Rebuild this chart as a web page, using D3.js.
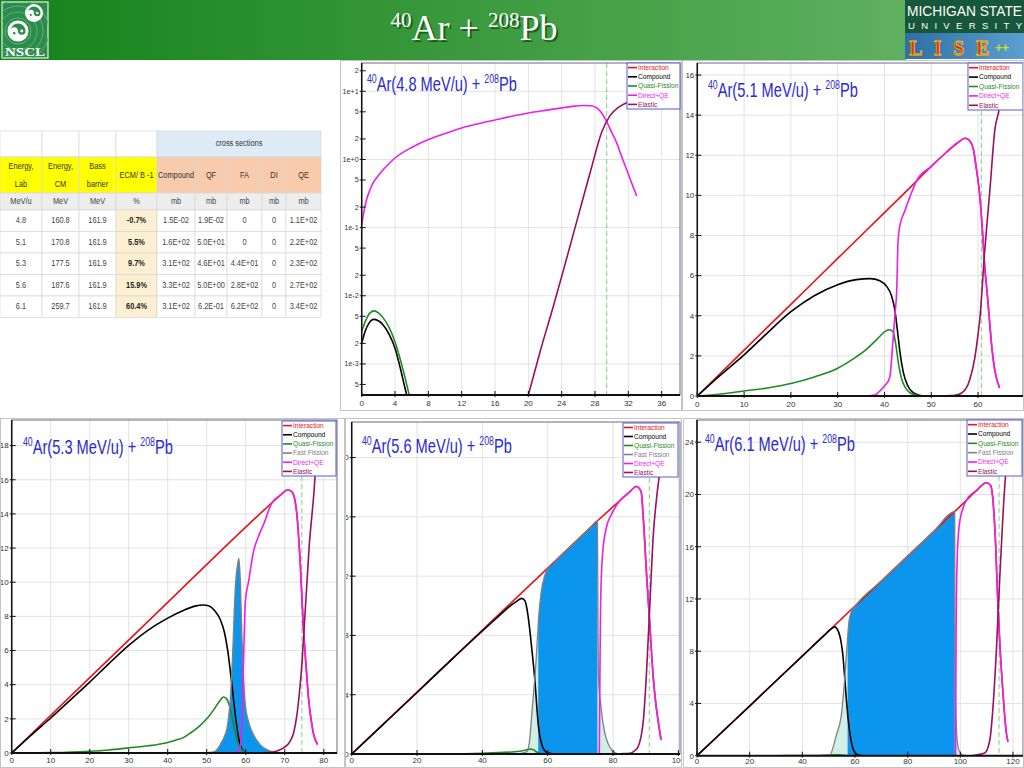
<!DOCTYPE html>
<html>
<head>
<meta charset="utf-8">
<script src="https://cdn.jsdelivr.net/npm/d3@7/dist/d3.min.js"></script>
<style>
  body { margin: 0; background: #fff; }
  svg { display: block; }
</style>
</head>
<body>
<script>
// ---------- table values ----------
const tableHeaders = [["Energy,", "Lab"], ["Energy,", "CM"], ["Bass", "barrier"], ["ECM/ B -1"],
  ["Compound"], ["QF"], ["FA"], ["DI"], ["QE"]]
const tableUnits = ["MeV/u", "MeV", "MeV", "%", "mb", "mb", "mb", "mb", "mb"]
const energyLab = ["4.8", "5.1", "5.3", "5.6", "6.1"]
const energyCM = ["160.8", "170.8", "177.5", "187.6", "259.7"]
const bassBarrier = ["161.9", "161.9", "161.9", "161.9", "161.9"]
const ecmOverB = ["-0.7%", "5.5%", "9.7%", "15.9%", "60.4%"]
const xsCompound = ["1.5E-02", "1.6E+02", "3.1E+02", "3.3E+02", "3.1E+02"]
const xsQF = ["1.9E-02", "5.0E+01", "4.6E+01", "5.0E+00", "6.2E-01"]
const xsFA = ["0", "0", "4.4E+01", "2.8E+02", "6.2E+02"]
const xsDI = ["0", "0", "0", "0", "0"]
const xsQE = ["1.1E+02", "2.2E+02", "2.3E+02", "2.7E+02", "3.4E+02"]

const legendNames5 = ["Interaction", "Compound", "Quasi-Fission", "Direct+QE", "Elastic"]
const legendNames6 = ["Interaction", "Compound", "Quasi-Fission", "Fast Fission", "Direct+QE", "Elastic"]

// ---------- 4.8 MeV/u (log scale) ----------
const a48XTicks = [0, 4, 8, 12, 16, 20, 24, 28, 32, 36]
const a48YTicks = [5e-4, 1e-3, 2e-3, 5e-3, 1e-2, 2e-2, 5e-2, 1e-1, 2e-1, 5e-1, 1, 2, 5, 10, 20]
const a48YLabels = ["5", "1e-3", "2", "5", "1e-2", "2", "5", "1e-1", "2", "5", "1e+0", "2", "5", "1e+1", "2"]
const a48Compound = [[0, 0.0020], [0.4, 0.0030], [0.9, 0.0040], [1.4, 0.0045], [2, 0.0043], [2.6, 0.0037],
  [3.3, 0.0027], [4, 0.0017], [4.6, 0.0009], [5.2, 0.00044], [5.4, 0.00035]]
const a48QF = [[0, 0.0030], [0.5, 0.0044], [1, 0.0056], [1.5, 0.0060], [2, 0.0056], [2.6, 0.0047],
  [3.3, 0.0034], [4, 0.0021], [4.6, 0.0012], [5.2, 0.00063], [5.7, 0.00035]]
const a48Direct = [[0, 0.11], [0.3, 0.18], [0.6, 0.26], [1, 0.36], [1.4, 0.46], [2, 0.58], [2.6, 0.71],
  [4, 1.05], [6, 1.5], [8, 1.96], [10, 2.4], [12, 2.9], [14, 3.35], [16, 3.8], [18, 4.3], [20, 4.8],
  [22, 5.25], [24, 5.7], [25.5, 6.05], [26.5, 6.2], [27.5, 6.15], [28.2, 5.7], [28.8, 4.8], [29.4, 3.6],
  [30, 2.5], [30.6, 1.75], [31.2, 1.1], [31.8, 0.71], [32.4, 0.45], [33, 0.29]]
const a48Elastic = [[20, 0.00035], [21.4, 0.0015], [23, 0.007], [24.5, 0.032], [26, 0.15], [27.5, 0.7],
  [28.8, 2.5], [29.8, 4.4], [30.8, 5.8], [31.8, 6.8], [33, 7.6]]
const a48Grazing = 29.4

// ---------- 5.1 MeV/u ----------
const b51XTicks = [0, 10, 20, 30, 40, 50, 60]
const b51YTicks = [0, 2, 4, 6, 8, 10, 12, 14, 16]
const b51Interaction = [[0, 0], [10, 2.29], [20, 4.57], [30, 6.86], [40, 9.14], [46.8, 10.7], [50, 11.45],
  [53, 12.1], [55.5, 12.6], [57.3, 12.85], [58.3, 12.7], [59, 12.3], [59.6, 11.4], [60.4, 9.9], [61, 8.0],
  [61.4, 6.5], [62, 5.0], [62.5, 3.6], [63, 2.3], [63.6, 1.25], [64.6, 0.4]]
const b51Compound = [[0, 0], [5, 1.05], [10, 2.05], [15, 3.15], [20, 4.2], [25, 5.0], [30, 5.55], [34, 5.8],
  [37, 5.85], [39, 5.75], [40.5, 5.45], [41.5, 5.0], [42.2, 4.3], [42.8, 3.2], [43.3, 2.2], [44, 1.2],
  [45, 0.5], [46, 0.2], [47, 0.07], [48, 0]]
const b51QF = [[0, 0], [5, 0.1], [10, 0.25], [15, 0.4], [20, 0.62], [25, 0.95], [30, 1.38], [33, 1.8],
  [36, 2.3], [38.5, 2.85], [40, 3.2], [41, 3.3], [41.8, 3.2], [42.4, 2.6], [43, 1.6], [43.6, 0.9],
  [44.5, 0.4], [45.5, 0.15], [47, 0.03], [48.5, 0]]
const b51Direct = [[36, 0], [38, 0.05], [39, 0.25], [40, 0.5], [41.1, 0.9], [41.8, 2.7], [42.3, 4.2],
  [42.6, 5.2], [42.9, 7.7], [43.3, 8.5], [44.3, 9.2], [45.4, 9.9], [46.8, 10.7], [50, 11.45], [53, 12.1],
  [55.5, 12.6], [57.3, 12.85], [58.3, 12.7], [59, 12.3], [59.6, 11.4], [60.4, 9.9], [61, 8.0], [61.4, 6.5],
  [62, 5.0], [62.5, 3.6], [63, 2.3], [63.6, 1.25], [64.6, 0.4]]
const b51Elastic = [[52, 0], [55, 0.03], [56.5, 0.15], [57.5, 0.4], [58.2, 0.8], [59.3, 1.9], [59.9, 2.9],
  [60.4, 3.9], [61.4, 7.2], [62.5, 10.2], [63.6, 13.3], [64.6, 14.5], [65.3, 16.6]]
const b51Grazing = 60.7

// ---------- 5.3 MeV/u ----------
const c53XTicks = [0, 10, 20, 30, 40, 50, 60, 70, 80]
const c53YTicks = [0, 2, 4, 6, 8, 10, 12, 14, 16, 18]
const c53Interaction = [[0, 0], [20, 4.41], [40, 8.82], [60, 13.23], [66.7, 14.65], [68.9, 15.1], [70.7, 15.4],
  [71.6, 15.35], [72.3, 15.1], [73.1, 14], [74, 11], [74.8, 7.3], [75.5, 5.0], [76.1, 3.2], [76.8, 1.9],
  [77.4, 1.1], [78.4, 0.5]]
const c53Compound = [[0, 0], [5, 1.05], [10, 2.05], [15, 3.1], [20, 4.15], [25, 5.25], [30, 6.3], [35, 7.2],
  [40, 7.9], [44, 8.35], [47, 8.6], [49, 8.67], [50.5, 8.62], [52, 8.35], [53.5, 7.8], [54.5, 7.1],
  [55.5, 5.8], [56.5, 3.9], [57.5, 1.9], [58.5, 0.55], [59.5, 0.1], [60.5, 0]]
const c53QF = [[0, 0], [10, 0.02], [20, 0.1], [25, 0.18], [30, 0.3], [35, 0.42], [40, 0.62], [42, 0.75],
  [44, 0.9], [46, 1.2], [48, 1.55], [50, 2.0], [52, 2.6], [53.5, 3.1], [54.3, 3.28], [55, 3.2], [55.8, 2.8],
  [56.5, 2.1], [57.3, 1.2], [58, 0.6], [59, 0.2], [60, 0.03], [61, 0]]
const c53FastFission = [[49, 0], [51.8, 0.06], [53.5, 0.5], [54.5, 0.95], [55.2, 1.46], [55.7, 2.3], [56, 3.0],
  [56.4, 4.6], [56.7, 6.1], [57, 8.0], [57.3, 9.6], [57.6, 10.5], [57.9, 11.0], [58.2, 11.4], [58.4, 11.0],
  [58.6, 10.2], [59, 7.0], [59.4, 4.6], [59.9, 2.8], [60.7, 1.85], [62, 1.07], [63.7, 0.49], [65.4, 0.2],
  [67, 0.05], [68, 0]]
const c53Direct = [[57.5, 0], [58.5, 0.3], [59, 1.5], [59.3, 4.2], [59.6, 6.8], [59.9, 8.9], [60.7, 10.0],
  [62, 11.8], [63.3, 12.7], [64.6, 13.4], [66.7, 14.65], [68.9, 15.1], [70.7, 15.4], [71.6, 15.35],
  [72.3, 15.1], [73.1, 14], [74, 11], [74.8, 7.3], [75.5, 5.0], [76.1, 3.2], [76.8, 1.9], [77.4, 1.1], [78.4, 0.5]]
const c53Elastic = [[64, 0], [66, 0.02], [68, 0.12], [69.7, 0.3], [71.4, 0.7], [72.3, 1.2], [73.1, 2.2],
  [73.8, 3.6], [74.4, 5.2], [75, 7.4], [75.7, 10], [76.3, 12.2], [77, 14], [77.5, 15.3], [77.8, 16.3], [78.3, 18]]
const c53Grazing = 74.4

// ---------- 5.6 MeV/u ----------
const d56XTicks = [0, 20, 40, 60, 80, 100]
const d56YTicks = [0, 4, 8, 12, 16, 20]
const d56Interaction = [[0, 0], [20, 4.18], [40, 8.36], [60, 12.54], [75.2, 15.72], [82.1, 17.1], [84.7, 17.6],
  [87.2, 18.05], [88.6, 17.7], [89.3, 15.8], [90.3, 12.0], [91.3, 8.6], [92.3, 5.2], [93.1, 3.4],
  [93.9, 2.1], [94.7, 0.95]]
const d56Compound = [[0, 0], [10, 2.07], [20, 4.15], [30, 6.25], [40, 8.3], [45, 9.3], [48, 9.9], [50.5, 10.3],
  [52, 10.5], [53, 10.35], [53.6, 9.85], [54.4, 8.6], [55.1, 7.15], [56.1, 4.9], [56.6, 3.4], [57.1, 2.0],
  [57.6, 1.2], [58.2, 0.63], [59, 0.25], [60.2, 0.07], [62, 0]]
const d56QF = [[0, 0], [30, 0], [40, 0.05], [45, 0.1], [50, 0.15], [53, 0.25], [54.5, 0.33], [55.5, 0.3],
  [56.5, 0.15], [57.5, 0.05], [59, 0]]
const d56FastFission = [[48, 0], [51, 0.03], [52.5, 0.08], [53.6, 0.16], [54.4, 0.8], [55.1, 2.6], [55.7, 4.2],
  [56.3, 5.8], [56.8, 7.6], [57.3, 9.4], [58, 10.9], [59.2, 12.1], [60.5, 12.65], [62, 12.96], [65, 13.59],
  [68, 14.21], [71, 14.84], [73, 15.26], [75.2, 15.72], [75.35, 11], [75.5, 5.7], [75.8, 4.2], [76.2, 3.4],
  [76.8, 2.3], [77.5, 1.4], [78.5, 0.7], [79.6, 0.27], [81.6, 0]]
const d56Direct = [[75.8, 0], [75.9, 3], [76, 5.7], [76.2, 10.2], [76.8, 13.5], [78, 15.3], [79.6, 16.2],
  [82.1, 17.1], [84.7, 17.6], [87.2, 18.05], [88.6, 17.7], [89.3, 15.8], [90.3, 12.0], [91.3, 8.6],
  [92.3, 5.2], [93.1, 3.4], [93.9, 2.1], [94.7, 0.95]]
const d56Elastic = [[80, 0], [82.1, 0.02], [85.2, 0.05], [86.5, 0.2], [87.7, 0.5], [88.6, 1.2], [89.3, 2.3],
  [90.3, 5.7], [91.3, 10.2], [92.3, 14.7], [93.4, 17.4], [94.4, 19.2], [95.2, 21]]
const d56FissionCut = [57.1, 75.2]
const d56Grazing = 91.1

// ---------- 6.1 MeV/u ----------
const e61XTicks = [0, 20, 40, 60, 80, 100, 120]
const e61YTicks = [0, 4, 8, 12, 16, 20, 24]
const e61Interaction = [[0, 0], [20, 3.82], [40, 7.64], [60, 11.46], [80, 15.28], [97.9, 18.7], [102.3, 19.55],
  [106.1, 20.3], [109.9, 20.9], [111.5, 20.7], [112.5, 19.3], [113.4, 16.2], [114.1, 12.4], [115, 8.6],
  [116.2, 4.8], [117.5, 1.7], [118.1, 1.07]]
const e61Compound = [[0, 0], [10, 1.9], [20, 3.8], [30, 5.72], [40, 7.62], [48, 9.15], [51.6, 9.8], [52.3, 9.86],
  [53.2, 9.7], [54.2, 9.2], [54.8, 8.6], [55.4, 7.7], [56, 6.2], [56.7, 4.4], [57.3, 3.0], [58, 1.8],
  [59.2, 0.56], [60, 0.25], [61.1, 0.05], [63, 0]]
const e61QF = [[0, 0], [30, 0], [45, 0.02], [50, 0.05], [54, 0.06], [57, 0.02], [60, 0]]
const e61FastFission = [[47, 0], [50.4, 0.05], [52.9, 1.58], [54.8, 3.1], [56, 5.66], [56.9, 8.2], [57.7, 10.25],
  [58.6, 11.0], [60.5, 11.56], [70, 13.37], [80, 15.28], [90, 17.19], [97.85, 18.69], [97.95, 10],
  [98.05, 4.8], [98.6, 1.7], [99.5, 0.4], [101, 0.05], [102.3, 0]]
const e61Direct = [[98.2, 0], [98.3, 5], [98.4, 9.9], [98.8, 15.0], [99.5, 17.5], [101.1, 19.0], [102.3, 19.55],
  [106.1, 20.3], [109.9, 20.9], [111.5, 20.7], [112.5, 19.3], [113.4, 16.2], [114.1, 12.4], [115, 8.6],
  [116.2, 4.8], [117.5, 1.7], [118.1, 1.07]]
const e61Elastic = [[103, 0], [104.9, 0.02], [107.3, 0.1], [109.3, 0.2], [111.2, 1.2], [112.4, 3.7], [113.7, 8.1],
  [115, 13.7], [116.3, 18.8], [117.3, 21.8], [118.1, 23.5], [118.9, 25.7]]
const e61FissionCut = [57.2, 97.9]
const e61Grazing = 114.7

// ---------- setup ----------
const W = 1024, H = 768
const sans = "'Liberation Sans', Arial, sans-serif"
const colors = {
  "Interaction": "#e8141b",
  "Compound": "#000000",
  "Quasi-Fission": "#1f8a24",
  "Fast Fission": "#808080",
  "Direct+QE": "#ee1ee8",
  "Elastic": "#9b0f5f"
}

const svg = d3.select("body").append("svg")
  .attr("width", W).attr("height", H)
  .style("font-family", sans)
const defs = svg.append("defs")

// header bar
const hg = defs.append("linearGradient").attr("id", "hdr").attr("x1", "0").attr("x2", "1")
hg.append("stop").attr("offset", "0").attr("stop-color", "#14821a")
hg.append("stop").attr("offset", "1").attr("stop-color", "#5fb05f")
svg.append("rect").attr("x", 0).attr("y", 0).attr("width", 906).attr("height", 60).attr("fill", "url(#hdr)")

// title with shadow
function slideTitle(dx, dy, fill) {
  const t = svg.append("text")
    .attr("x", 474 + dx).attr("y", 40 + dy)
    .attr("text-anchor", "middle")
    .attr("font-family", "'Liberation Serif', 'Times New Roman', serif")
    .attr("fill", fill)
  t.append("tspan").attr("font-size", 21).attr("dy", -13).text("40")
  t.append("tspan").attr("font-size", 36).attr("dy", 13).text("Ar + ")
  t.append("tspan").attr("font-size", 21).attr("dy", -13).text("208")
  t.append("tspan").attr("font-size", 36).attr("dy", 13).text("Pb")
}
slideTitle(2, 2, "rgba(0,40,0,0.55)")
slideTitle(0, 0, "#ffffff")

// NSCL logo
function swirl(g, cx, cy, r) {
  g.append("circle").attr("cx", cx).attr("cy", cy).attr("r", r).attr("fill", "#ffffff")
  const a = r * 0.72, b = a / 2
  g.append("path")
    .attr("d", `M${cx - a},${cy} A${a},${a} 0 0 1 ${cx + a},${cy} A${b},${b} 0 0 1 ${cx},${cy} A${b},${b} 0 0 0 ${cx - a},${cy}Z`)
    .attr("fill", "#2c8c4c")
  g.append("circle").attr("cx", cx + b).attr("cy", cy).attr("r", r * 0.14).attr("fill", "#ffffff")
  g.append("circle").attr("cx", cx - b).attr("cy", cy + b * 0.6).attr("r", r * 0.12).attr("fill", "#2c8c4c")
}
const logo = svg.append("g")
logo.append("rect").attr("x", 2).attr("y", 2).attr("width", 46).attr("height", 56)
  .attr("fill", "#2c8c4c").attr("stroke", "#e6f2e8").attr("stroke-width", 1.2)
defs.append("clipPath").attr("id", "logoClip").append("rect")
  .attr("x", 2).attr("y", 2).attr("width", 46).attr("height", 56)
const rings = logo.append("g").attr("clip-path", "url(#logoClip)")
;[13, 19, 25, 31].forEach(r => {
  rings.append("circle").attr("cx", 18).attr("cy", 31).attr("r", r)
    .attr("fill", "none").attr("stroke", "#5cb078").attr("stroke-width", 1)
})
swirl(logo, 34, 13, 9)
swirl(logo, 18, 31, 10.5)
logo.append("text").attr("x", 25).attr("y", 56).attr("text-anchor", "middle")
  .attr("font-family", "'Liberation Serif', serif").attr("font-weight", "bold")
  .attr("font-size", 13).attr("fill", "#ffffff")
  .attr("textLength", 40).attr("lengthAdjust", "spacingAndGlyphs").text("NSCL")

// MSU / LISE++ logo
svg.append("rect").attr("x", 905).attr("y", 0).attr("width", 119).attr("height", 33).attr("fill", "#17573b")
svg.append("text").attr("x", 907).attr("y", 16).attr("font-size", 14).attr("fill", "#ffffff")
  .attr("textLength", 115).attr("lengthAdjust", "spacingAndGlyphs").text("MICHIGAN STATE")
svg.append("text").attr("x", 908).attr("y", 29).attr("font-size", 9.5).attr("fill", "#ffffff")
  .attr("textLength", 114).attr("lengthAdjust", "spacing").text("UNIVERSITY")
const lg = defs.append("linearGradient").attr("id", "lise").attr("x1", "0").attr("x2", "1")
lg.append("stop").attr("offset", "0").attr("stop-color", "#2f6ea6")
lg.append("stop").attr("offset", "1").attr("stop-color", "#5b9fd0")
svg.append("rect").attr("x", 905).attr("y", 33).attr("width", 119).attr("height", 26).attr("fill", "url(#lise)")
svg.append("text").attr("x", 909).attr("y", 55).attr("font-family", "'Liberation Serif', serif")
  .attr("font-weight", "bold").attr("font-size", 20).attr("fill", "#e02a1c")
  .attr("stroke", "#f2c200").attr("stroke-width", 0.8)
  .attr("textLength", 80).attr("lengthAdjust", "spacing").text("LISE")
svg.append("text").attr("x", 995).attr("y", 52).attr("font-weight", "bold").attr("font-size", 12)
  .attr("fill", "#d6e020").text("++")

// ---------- table ----------
const colX = [0, 42, 79, 116, 157, 195, 227, 262, 286, 321]
const tbl = svg.append("g").attr("font-size", 9)
const border = "#d6d6d6"
function cell(i0, i1, y0, y1, fill) {
  tbl.append("rect").attr("x", colX[i0]).attr("y", y0)
    .attr("width", colX[i1] - colX[i0]).attr("height", y1 - y0)
    .attr("fill", fill).attr("stroke", border).attr("stroke-width", 0.7)
}
// narrow text: squeeze horizontally, like the condensed font of the sheet
function ctext(i0, i1, y, txt, color, bold) {
  const cx = (colX[i0] + colX[i1]) / 2
  tbl.append("text").attr("x", 0).attr("y", 0)
    .attr("transform", `translate(${cx},${y}) scale(0.82,1)`)
    .attr("text-anchor", "middle").attr("dominant-baseline", "middle")
    .attr("fill", color).attr("font-weight", bold ? "bold" : "normal").text(txt)
}
// row: top
for (let i = 0; i < 4; i++) cell(i, i + 1, 131, 157, "#ffffff")
cell(4, 9, 131, 157, "#ddebf7")
ctext(4, 9, 144, "cross sections", "#333")
// row: headers
tableHeaders.forEach((h, i) => {
  cell(i, i + 1, 157, 193, i < 4 ? "#ffff00" : "#f8cbad")
  if (h.length === 2) {
    ctext(i, i + 1, 167, h[0], "#333")
    ctext(i, i + 1, 185, h[1], "#333")
  } else {
    ctext(i, i + 1, 176, h[0], "#333")
  }
})
// row: units
tableUnits.forEach((u, i) => {
  cell(i, i + 1, 193, 210, "#ededed")
  ctext(i, i + 1, 201.5, u, "#444")
})
// data rows
const tableCols = [energyLab, energyCM, bassBarrier, ecmOverB, xsCompound, xsQF, xsFA, xsDI, xsQE]
const rowH = 21.5
energyLab.forEach((_, r) => {
  const y0 = 210 + r * rowH
  tableCols.forEach((col, i) => {
    cell(i, i + 1, y0, y0 + rowH, i === 3 ? "#fdf0d2" : "#ffffff")
    ctext(i, i + 1, y0 + rowH / 2, col[r], i === 3 ? "#222" : "#444", i === 3)
  })
})

// ---------- panels ----------
function drawPanel(p, idx) {
  const [fx0, fy0, fx1, fy1] = p.frame
  const [left, top, right, bottom] = p.plot
  defs.append("clipPath").attr("id", "frame" + idx).append("rect")
    .attr("x", fx0).attr("y", fy0).attr("width", fx1 - fx0).attr("height", fy1 - fy0)
  defs.append("clipPath").attr("id", "plot" + idx).append("rect")
    .attr("x", left).attr("y", top).attr("width", right - left).attr("height", bottom - top)

  const g = svg.append("g").attr("clip-path", `url(#frame${idx})`)
  g.append("rect").attr("x", fx0).attr("y", fy0).attr("width", fx1 - fx0).attr("height", fy1 - fy0)
    .attr("fill", "#ffffff")

  const x = d3.scaleLinear().domain(p.xDomain).range([left, right])
  const y = (p.log ? d3.scaleLog() : d3.scaleLinear()).domain(p.yDomain).range([bottom, top])

  // grid
  g.selectAll(null).data(p.xTicks.filter(v => v > 0)).enter().append("line")
    .attr("x1", d => x(d)).attr("x2", d => x(d)).attr("y1", top).attr("y2", bottom)
    .attr("stroke", "#e2e2e2").attr("stroke-width", 1)
  g.selectAll(null).data(p.yGrid).enter().append("line")
    .attr("x1", left).attr("x2", right).attr("y1", d => y(d)).attr("y2", d => y(d))
    .attr("stroke", "#e2e2e2").attr("stroke-width", 1)

  const plot = g.append("g").attr("clip-path", `url(#plot${idx})`)

  // grazing line
  plot.append("line")
    .attr("x1", x(p.grazing)).attr("x2", x(p.grazing)).attr("y1", top).attr("y2", bottom)
    .attr("stroke", "#7fd07f").attr("stroke-width", 1).attr("stroke-dasharray", "5,3")

  const line = d3.line().x(d => x(d[0])).y(d => y(d[1])).curve(d3.curveMonotoneX)
  const area = d3.area().x(d => x(d[0])).y0(y.range()[0]).y1(d => y(d[1])).curve(d3.curveMonotoneX)

  // fast fission fills
  if (p.fission) {
    if (p.cut) {
      plot.append("path").attr("d", area(p.fission)).attr("fill", "#cfefe7")
      defs.append("clipPath").attr("id", "cut" + idx).append("rect")
        .attr("x", x(p.cut[0])).attr("y", top).attr("width", x(p.cut[1]) - x(p.cut[0])).attr("height", bottom - top)
      plot.append("g").attr("clip-path", `url(#cut${idx})`)
        .append("path").attr("d", area(p.fission)).attr("fill", "#0b95ec")
    } else {
      plot.append("path").attr("d", area(p.fission)).attr("fill", "#0b95ec")
    }
  }

  p.series.forEach(([name, data]) => {
    plot.append("path").attr("d", line(data))
      .attr("fill", "none").attr("stroke", colors[name])
      .attr("stroke-width", name === "Fast Fission" ? 1.3 : 1.6)
  })

  // frame + axes
  g.append("rect").attr("x", left).attr("y", top).attr("width", right - left).attr("height", bottom - top)
    .attr("fill", "none").attr("stroke", "#6a6a7a").attr("stroke-width", 1)
  g.append("line").attr("x1", left).attr("x2", left).attr("y1", top).attr("y2", bottom)
    .attr("stroke", "#111").attr("stroke-width", 1.5)
  g.append("line").attr("x1", left).attr("x2", right).attr("y1", bottom).attr("y2", bottom)
    .attr("stroke", "#111").attr("stroke-width", 2)

  // tick marks
  g.selectAll(null).data(p.yTicks).enter().append("line")
    .attr("x1", left - 2).attr("x2", left + 4).attr("y1", d => y(d)).attr("y2", d => y(d))
    .attr("stroke", "#111").attr("stroke-width", 1)
  g.selectAll(null).data(p.xTicks).enter().append("line")
    .attr("x1", d => x(d)).attr("x2", d => x(d)).attr("y1", bottom - 4).attr("y2", bottom + 2)
    .attr("stroke", "#111").attr("stroke-width", 1)

  // tick labels
  g.selectAll(null).data(p.yTicks).enter().append("text")
    .attr("x", left - 3).attr("y", d => y(d)).attr("dy", "0.35em")
    .attr("text-anchor", "end").attr("font-size", p.log ? 7.2 : 8).attr("fill", "#333")
    .text((d, i) => p.yLabels ? p.yLabels[i] : d)
  g.selectAll(null).data(p.xTicks).enter().append("text")
    .attr("x", d => x(d)).attr("y", bottom + p.xLabelGap)
    .attr("text-anchor", "middle").attr("font-size", 8).attr("fill", "#333")
    .text(d => d)

  // title, squeezed to the width of the original
  const tg = g.append("g").attr("transform", `translate(${p.titlePos[0]},${p.titlePos[1]})`)
  const t = tg.append("text").attr("x", 0).attr("y", 0).attr("fill", "#2a2ad6")
  t.append("tspan").attr("font-size", 12).attr("dy", -8).text("40")
  t.append("tspan").attr("font-size", 20).attr("dy", 8).text(`Ar(${p.energy} MeV/u) + `)
  t.append("tspan").attr("font-size", 12).attr("dy", -8).text("208")
  t.append("tspan").attr("font-size", 20).attr("dy", 8).text("Pb")
  const tw = t.node().getBBox().width
  tg.attr("transform", `translate(${p.titlePos[0]},${p.titlePos[1]}) scale(${150 / tw},1)`)

  // legend
  const [lx0, ly0, lx1, ly1] = p.legend
  const lgd = g.append("g")
  lgd.append("rect").attr("x", lx0).attr("y", ly0).attr("width", lx1 - lx0).attr("height", ly1 - ly0)
    .attr("fill", "#ffffff").attr("stroke", "#5a5ad0").attr("stroke-width", 1)
  const step = (ly1 - ly0) / p.names.length
  p.names.forEach((n, i) => {
    const yy = ly0 + step * (i + 0.5)
    lgd.append("line").attr("x1", lx0 + 1).attr("x2", lx0 + 10).attr("y1", yy).attr("y2", yy)
      .attr("stroke", colors[n]).attr("stroke-width", 1.6)
    lgd.append("text").attr("x", lx0 + 11).attr("y", yy).attr("dy", "0.35em")
      .attr("font-size", 6.6).attr("fill", colors[n]).text(n)
  })

  // outer image border
  g.append("rect").attr("x", fx0 + 0.5).attr("y", fy0 + 0.5).attr("width", fx1 - fx0 - 1).attr("height", fy1 - fy0 - 1)
    .attr("fill", "none").attr("stroke", "#c4c4c4").attr("stroke-width", 1)
}

const panels = [
  {
    energy: energyLab[0], frame: [340, 60, 682, 411], plot: [361.7, 63, 680, 395],
    xDomain: [0, 38.2], yDomain: [0.00035, 26], log: true,
    xTicks: a48XTicks, yTicks: a48YTicks, yLabels: a48YLabels, yGrid: [1e-3, 1e-2, 1e-1, 1, 10],
    series: [["Compound", a48Compound], ["Quasi-Fission", a48QF], ["Direct+QE", a48Direct], ["Elastic", a48Elastic]],
    grazing: a48Grazing, legend: [627, 63, 680, 109], names: legendNames5, titlePos: [367, 91], xLabelGap: 11
  },
  {
    energy: energyLab[1], frame: [682, 60, 1024, 411], plot: [697.3, 63, 1023, 396],
    xDomain: [0, 69.6], yDomain: [0, 16.6],
    xTicks: b51XTicks, yTicks: b51YTicks, yGrid: b51YTicks.slice(1),
    series: [["Interaction", b51Interaction], ["Compound", b51Compound], ["Quasi-Fission", b51QF],
      ["Direct+QE", b51Direct], ["Elastic", b51Elastic]],
    grazing: b51Grazing, legend: [968, 63, 1023, 110], names: legendNames5, titlePos: [708, 97], xLabelGap: 11
  },
  {
    energy: energyLab[2], frame: [0, 418, 345, 768], plot: [11.7, 420, 337, 753],
    xDomain: [0, 83.4], yDomain: [0, 19.5],
    xTicks: c53XTicks, yTicks: c53YTicks, yGrid: c53YTicks.slice(1),
    fission: c53FastFission,
    series: [["Interaction", c53Interaction], ["Compound", c53Compound], ["Quasi-Fission", c53QF],
      ["Fast Fission", c53FastFission], ["Direct+QE", c53Direct], ["Elastic", c53Elastic]],
    grazing: c53Grazing, legend: [282, 421, 336, 476], names: legendNames6, titlePos: [23, 454], xLabelGap: 10
  },
  {
    energy: energyLab[3], frame: [345, 418, 682, 768], plot: [351.7, 422, 680, 754],
    xDomain: [0, 100.5], yDomain: [0, 22.4],
    xTicks: d56XTicks, yTicks: d56YTicks, yGrid: d56YTicks.slice(1),
    fission: d56FastFission, cut: d56FissionCut,
    series: [["Interaction", d56Interaction], ["Compound", d56Compound], ["Quasi-Fission", d56QF],
      ["Fast Fission", d56FastFission], ["Direct+QE", d56Direct], ["Elastic", d56Elastic]],
    grazing: d56Grazing, legend: [623, 423, 678, 477], names: legendNames6, titlePos: [362, 453], xLabelGap: 9
  },
  {
    energy: energyLab[4], frame: [683, 418, 1024, 768], plot: [697, 420, 1023, 755.7],
    xDomain: [0, 123.8], yDomain: [0, 25.7],
    xTicks: e61XTicks, yTicks: e61YTicks, yGrid: e61YTicks.slice(1),
    fission: e61FastFission, cut: e61FissionCut,
    series: [["Interaction", e61Interaction], ["Compound", e61Compound], ["Quasi-Fission", e61QF],
      ["Fast Fission", e61FastFission], ["Direct+QE", e61Direct], ["Elastic", e61Elastic]],
    grazing: e61Grazing, legend: [967, 420, 1022, 476], names: legendNames6, titlePos: [705, 451], xLabelGap: 8
  }
]

panels.forEach(drawPanel)
</script>
</body>
</html>
